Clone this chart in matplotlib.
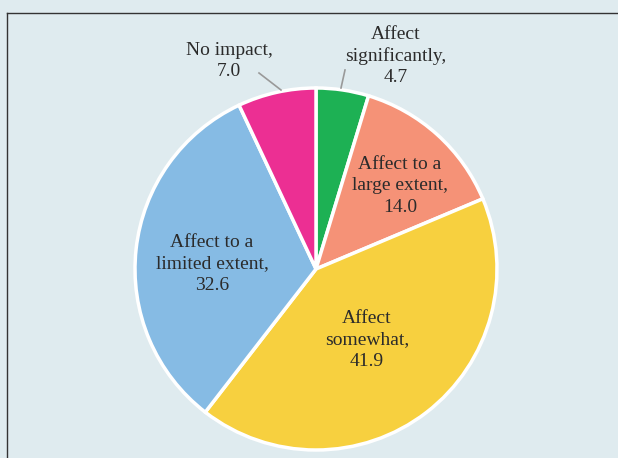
import matplotlib
matplotlib.use("Agg")
import matplotlib.pyplot as plt

categories = ["Affect\nsignificantly,", "Affect to a\nlarge extent,", "Affect\nsomewhat,",
              "Affect to a\nlimited extent,", "No impact,"]
values = [4.7, 14.0, 41.9, 32.6, 7.0]
colors = ["#1db154", "#f59277", "#f7d03f", "#86bbe4", "#ec2f93"]

W, H = 618, 458
BG = "#dfebef"
fig = plt.figure(figsize=(W / 100, H / 100), dpi=100, facecolor=BG)
ax = fig.add_axes([0, 0, 1, 1])
ax.set_facecolor(BG)

cx, cy, R = 316, H - 269, 181
ax.pie(values, colors=colors, startangle=90, counterclock=False,
       center=(cx, cy), radius=R, frame=True,
       wedgeprops=dict(edgecolor="white", linewidth=2.5))
ax.set_xlim(0, W)
ax.set_ylim(0, H)
ax.set_aspect("equal")
ax.axis("off")

# frame lines (left and top)
ax.plot([6.5, 6.5], [0, H - 13], color="#333333", lw=1.0)
ax.plot([6.5, W], [H - 13, H - 13], color="#333333", lw=1.0)

font = dict(family="Liberation Serif", fontsize=14, color="#2b2b2b",
            ha="center", va="center", linespacing=1.33)

# label positions (pixels from top-left)
label_pos = [(396, 56), (400, 186), (367, 340), (212, 264), (229, 61)]
for cat, v, (px, py) in zip(categories, values, label_pos):
    ax.text(px, H - py, f"{cat}\n{v:.1f}", **font)

# leader lines for outside labels
ax.plot([259, 281], [H - 73, H - 90], color="#999999", lw=1.2)
ax.plot([345, 341], [H - 70, H - 88], color="#999999", lw=1.2)

fig.savefig("out.png", dpi=100, facecolor=BG)
